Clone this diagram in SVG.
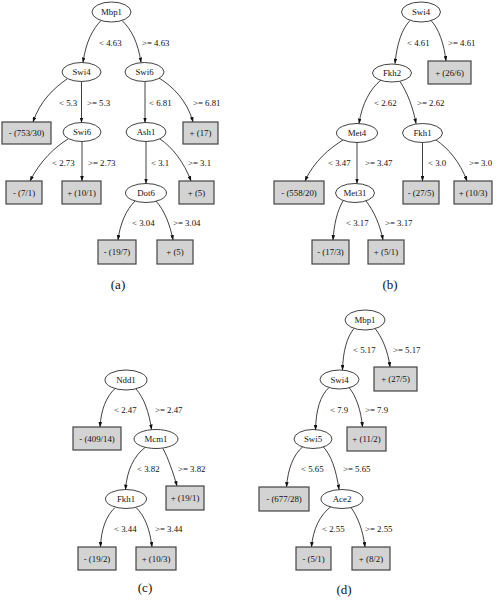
<svg xmlns="http://www.w3.org/2000/svg" width="498" height="600" viewBox="0 0 498 600">
<style>
text{font-family:"Liberation Serif","Times New Roman",serif;font-size:8.8px;fill:#111}
.n ellipse{fill:#fff;stroke:#111;stroke-width:0.8}
.n text,.b text{text-anchor:middle}
.b rect{fill:#d3d3d3;stroke:#444;stroke-width:1.2}
.e path{fill:none;stroke:#111;stroke-width:0.8;marker-end:url(#arr)}
.cap{font-size:13px;text-anchor:middle}
</style>
<defs>
<marker id="arr" viewBox="0 0 6 4" refX="5.5" refY="2" markerWidth="5.5" markerHeight="3.6" markerUnits="userSpaceOnUse" orient="auto">
<path d="M0,0 L6,2 L0,4 z" fill="#111"/>
</marker>
</defs>

<!-- connectors -->
<g id="connectors" class="e">
<!-- (a) -->
<path d="M101,20.5 C93,29 86,41 83,62.5"/>
<path d="M122,20.5 C131,29 138,42 141,62.5"/>
<path d="M67,79 C54,88 40,101 33,122"/>
<path d="M81.5,81.5 L81.5,122.5"/>
<path d="M145,81.5 L145,122.5"/>
<path d="M159,78 C172,86 187,100 193,122"/>
<path d="M68,139 C55,147 40,161 30,181"/>
<path d="M82,141.5 L82,181"/>
<path d="M146,141.5 L146,183.5"/>
<path d="M160,139 C172,147 184,162 191,181"/>
<path d="M135,201 C126,210 120,224 118,240"/>
<path d="M156,201 C164,210 170,224 173,240"/>
<!-- (b) -->
<path d="M410,20.5 C402,29 397,43 395,63.5"/>
<path d="M431,20.5 C439,29 444,44 446,61"/>
<path d="M381,80 C370,89 362,104 359,123.5"/>
<path d="M400,81.5 C407,92 413,107 416,123.5"/>
<path d="M343,140 C330,148 314,161 305,181"/>
<path d="M357,142.5 L357,183.5"/>
<path d="M422.5,142.5 L422.5,181"/>
<path d="M436,140 C448,148 460,162 467,181"/>
<path d="M343,201 C337,211 334,225 333,240"/>
<path d="M366,201 C374,211 380,225 383,240"/>
<!-- (c) -->
<path d="M115,388.5 C106,397 101,410 100,427"/>
<path d="M136,389 C144,398 149,412 151.5,429.5"/>
<path d="M145,447.5 C134,456 127,470 125.5,489.5"/>
<path d="M163,448.5 C168,458 173,472 177,486"/>
<path d="M115,507.5 C106,516 101,530 100.5,547"/>
<path d="M136,507.5 C145,516 150,530 152,547"/>
<!-- (d) -->
<path d="M354,328.5 C347,337 343,351 342.5,370"/>
<path d="M375,328.5 C382,337 388,351 390,367"/>
<path d="M329,387.5 C320,396 316,410 315.5,430"/>
<path d="M349,387.5 C356,396 361,410 362.5,427"/>
<path d="M303,446.5 C293,455 288,469 286.5,487"/>
<path d="M323,446.5 C331,455 336,469 339,489.5"/>
<path d="M331,506.5 C320,515 313,529 311.5,547"/>
<path d="M351,507.5 C358,517 363,531 365,547"/>
</g>

<!-- edge labels -->
<g id="edge-labels">
<text x="99" y="46">&lt; 4.63</text>
<text x="142" y="46">&gt;= 4.63</text>
<text x="59" y="106">&lt; 5.3</text>
<text x="87" y="106">&gt;= 5.3</text>
<text x="149" y="106">&lt; 6.81</text>
<text x="193" y="106">&gt;= 6.81</text>
<text x="52" y="166">&lt; 2.73</text>
<text x="88" y="166">&gt;= 2.73</text>
<text x="151" y="166">&lt; 3.1</text>
<text x="188" y="166">&gt;= 3.1</text>
<text x="132" y="226">&lt; 3.04</text>
<text x="173" y="226">&gt;= 3.04</text>

<text x="407" y="46">&lt; 4.61</text>
<text x="448" y="46">&gt;= 4.61</text>
<text x="374" y="106">&lt; 2.62</text>
<text x="417" y="106">&gt;= 2.62</text>
<text x="328" y="166">&lt; 3.47</text>
<text x="365" y="166">&gt;= 3.47</text>
<text x="428" y="166">&lt; 3.0</text>
<text x="469" y="166">&gt;= 3.0</text>
<text x="346" y="226">&lt; 3.17</text>
<text x="385" y="226">&gt;= 3.17</text>

<text x="114" y="413">&lt; 2.47</text>
<text x="155" y="413">&gt;= 2.47</text>
<text x="137" y="472">&lt; 3.82</text>
<text x="178" y="472">&gt;= 3.82</text>
<text x="114" y="532">&lt; 3.44</text>
<text x="155" y="532">&gt;= 3.44</text>

<text x="353" y="353">&lt; 5.17</text>
<text x="393" y="353">&gt;= 5.17</text>
<text x="330" y="413">&lt; 7.9</text>
<text x="365" y="413">&gt;= 7.9</text>
<text x="301" y="472">&lt; 5.65</text>
<text x="343" y="472">&gt;= 5.65</text>
<text x="322" y="532">&lt; 2.55</text>
<text x="365" y="532">&gt;= 2.55</text>
</g>

<!-- (a) nodes -->
<g id="a-mbp1" class="n"><ellipse cx="111.5" cy="12" rx="19.5" ry="10"/><text x="111.5" y="15">Mbp1</text></g>
<g id="a-swi4" class="n"><ellipse cx="81.5" cy="72" rx="19.5" ry="9.5"/><text x="81.5" y="75">Swi4</text></g>
<g id="a-swi6" class="n"><ellipse cx="144.5" cy="72" rx="19.5" ry="9.5"/><text x="144.5" y="75">Swi6</text></g>
<g id="a-leaf1" class="b"><rect x="2" y="122" width="49" height="22"/><text x="26.5" y="136">- (753/30)</text></g>
<g id="a-swi6b" class="n"><ellipse cx="82" cy="132" rx="19" ry="9.5"/><text x="82" y="135">Swi6</text></g>
<g id="a-ash1" class="n"><ellipse cx="146" cy="132" rx="20" ry="9.5"/><text x="146" y="135">Ash1</text></g>
<g id="a-leaf2" class="b"><rect x="183" y="122" width="35" height="22"/><text x="200.5" y="136">+ (17)</text></g>
<g id="a-leaf3" class="b"><rect x="6" y="181" width="36" height="23"/><text x="24" y="195.5">- (7/1)</text></g>
<g id="a-leaf4" class="b"><rect x="62" y="181" width="39" height="23"/><text x="81.5" y="195.5">+ (10/1)</text></g>
<g id="a-dot6" class="n"><ellipse cx="146" cy="193" rx="20.5" ry="9.5"/><text x="146" y="196">Dot6</text></g>
<g id="a-leaf5" class="b"><rect x="179" y="181" width="35" height="23"/><text x="196.5" y="195.5">+ (5)</text></g>
<g id="a-leaf6" class="b"><rect x="98" y="240" width="38" height="24"/><text x="117" y="255">- (19/7)</text></g>
<g id="a-leaf7" class="b"><rect x="157" y="240" width="36" height="24"/><text x="175" y="255">+ (5)</text></g>

<!-- (b) nodes -->
<g id="b-swi4" class="n"><ellipse cx="421" cy="12" rx="19.5" ry="10"/><text x="421" y="15">Swi4</text></g>
<g id="b-leaf1" class="b"><rect x="428" y="61" width="43" height="23"/><text x="449.5" y="75.5">+ (26/6)</text></g>
<g id="b-fkh2" class="n"><ellipse cx="392" cy="73" rx="19.5" ry="9"/><text x="392" y="76">Fkh2</text></g>
<g id="b-met4" class="n"><ellipse cx="357" cy="133" rx="20.5" ry="9.5"/><text x="357" y="136">Met4</text></g>
<g id="b-fkh1" class="n"><ellipse cx="422.5" cy="133" rx="20" ry="9.5"/><text x="422.5" y="136">Fkh1</text></g>
<g id="b-leaf2" class="b"><rect x="274" y="181" width="50" height="23"/><text x="299" y="195.5">- (558/20)</text></g>
<g id="b-met31" class="n"><ellipse cx="355" cy="193" rx="19.5" ry="9.5"/><text x="355" y="196">Met31</text></g>
<g id="b-leaf3" class="b"><rect x="403" y="181" width="36" height="23"/><text x="421" y="195.5">- (27/5)</text></g>
<g id="b-leaf4" class="b"><rect x="454" y="181" width="38" height="23"/><text x="473" y="195.5">+ (10/3)</text></g>
<g id="b-leaf5" class="b"><rect x="312" y="240" width="37" height="24"/><text x="330.5" y="255">- (17/3)</text></g>
<g id="b-leaf6" class="b"><rect x="368" y="240" width="36" height="24"/><text x="386" y="255">+ (5/1)</text></g>

<!-- (c) nodes -->
<g id="c-ndd1" class="n"><ellipse cx="126" cy="380" rx="21" ry="10"/><text x="126" y="383">Ndd1</text></g>
<g id="c-leaf1" class="b"><rect x="73" y="427" width="48" height="23"/><text x="97" y="441.5">- (409/14)</text></g>
<g id="c-mcm1" class="n"><ellipse cx="156" cy="439" rx="22" ry="9.5"/><text x="156" y="442">Mcm1</text></g>
<g id="c-fkh1" class="n"><ellipse cx="126" cy="499" rx="20.5" ry="9.5"/><text x="126" y="502">Fkh1</text></g>
<g id="c-leaf2" class="b"><rect x="166" y="486" width="38" height="24"/><text x="185" y="501">+ (19/1)</text></g>
<g id="c-leaf3" class="b"><rect x="78" y="547" width="38" height="23"/><text x="97" y="561.5">- (19/2)</text></g>
<g id="c-leaf4" class="b"><rect x="136" y="547" width="40" height="23"/><text x="156" y="561.5">+ (10/3)</text></g>

<!-- (d) nodes -->
<g id="d-mbp1" class="n"><ellipse cx="365" cy="320" rx="20" ry="10"/><text x="365" y="323">Mbp1</text></g>
<g id="d-leaf1" class="b"><rect x="374" y="367" width="43" height="24"/><text x="395.5" y="382">+ (27/5)</text></g>
<g id="d-swi4" class="n"><ellipse cx="339.5" cy="379.5" rx="19.5" ry="9.5"/><text x="339.5" y="382.5">Swi4</text></g>
<g id="d-swi5" class="n"><ellipse cx="313" cy="439" rx="19" ry="9.5"/><text x="313" y="442">Swi5</text></g>
<g id="d-leaf2" class="b"><rect x="347" y="427" width="39" height="24"/><text x="366.5" y="442">+ (11/2)</text></g>
<g id="d-leaf3" class="b"><rect x="259" y="487" width="50" height="24"/><text x="284" y="502">- (677/28)</text></g>
<g id="d-ace2" class="n"><ellipse cx="342" cy="499" rx="21" ry="9.5"/><text x="342" y="502">Ace2</text></g>
<g id="d-leaf4" class="b"><rect x="296" y="547" width="35" height="23"/><text x="313.5" y="561.5">- (5/1)</text></g>
<g id="d-leaf5" class="b"><rect x="352" y="547" width="38" height="23"/><text x="371" y="561.5">+ (8/2)</text></g>

<!-- captions -->
<text class="cap" x="118" y="289">(a)</text>
<text class="cap" x="390" y="289">(b)</text>
<text class="cap" x="145" y="592">(c)</text>
<text class="cap" x="344" y="594">(d)</text>
</svg>
